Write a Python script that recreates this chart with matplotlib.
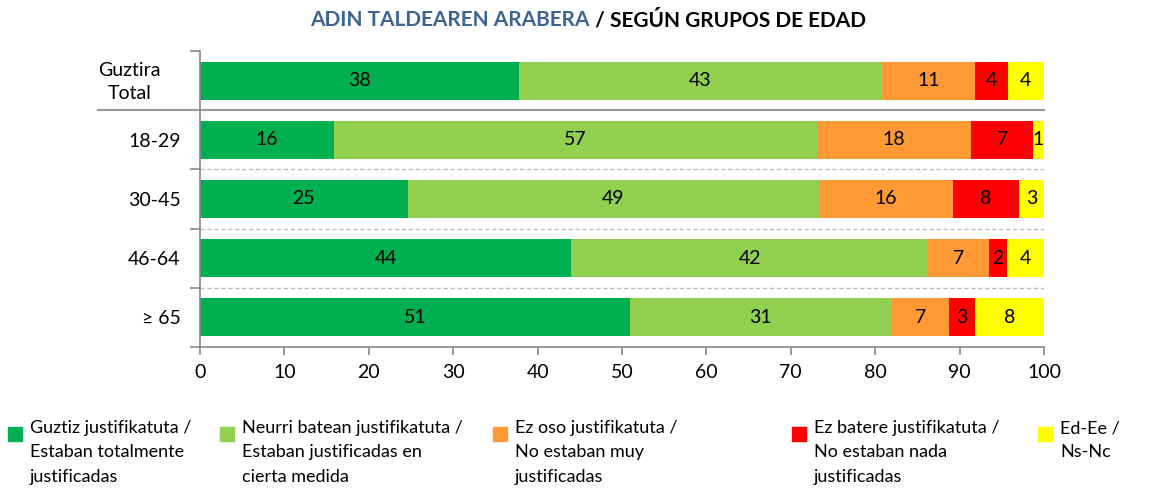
import matplotlib
matplotlib.use('Agg')
import matplotlib.pyplot as plt
from matplotlib.patches import Rectangle
from matplotlib.transforms import ScaledTranslation
import numpy as np

plt.rcParams['font.family'] = ['Lato', 'DejaVu Sans']

# Datos
grupos = ['Guztira\nTotal', '18-29', '30-45', '46-64', '≥ 65']
guztiz = [37.8, 15.9, 24.6, 44.0, 50.9]
neurri = [43.0, 57.2, 48.7, 42.3, 31.0]
ez_oso = [11.0, 18.3, 15.9, 7.2, 6.9]
ez_batere = [3.9, 7.3, 7.8, 2.1, 3.0]
ed_ee = [4.3, 1.3, 3.0, 4.4, 8.2]

series = [guztiz, neurri, ez_oso, ez_batere, ed_ee]
colores = ['#00B050', '#92D050', '#FF9933', '#FF0000', '#FFFF00']
etiquetas = ['Guztiz justifikatuta /\nEstaban totalmente\njustificadas',
             'Neurri batean justifikatuta /\nEstaban justificadas en\ncierta medida',
             'Ez oso justifikatuta /\nNo estaban muy\njustificadas',
             'Ez batere justifikatuta /\nNo estaban nada\njustificadas',
             'Ed-Ee /\nNs-Nc']

W, H = 1176, 497
fig = plt.figure(figsize=(W / 100, H / 100), dpi=100)
ax = fig.add_axes([200 / W, 1 - 347 / H, 844 / W, 296 / H])

y = np.arange(len(grupos))
izq = np.zeros(len(grupos))
for vals, col in zip(series, colores):
    vals = np.array(vals)
    bars = ax.barh(y, vals, left=izq, height=0.64, color=col, edgecolor='none')
    for b, v in zip(bars, vals):
        ax.text(b.get_x() + b.get_width() / 2, b.get_y() + b.get_height() / 2,
                f'{v:.0f}', ha='center', va='center', fontsize=14, color='black')
    izq += vals

ax.set_xlim(0, 100)
ax.set_ylim(len(grupos) - 0.5, -0.5)
ax.set_xticks(np.arange(0, 101, 10))
ax.set_yticks(y)
ax.set_yticklabels(grupos)
ax.set_yticks(np.arange(-0.5, len(grupos), 1), minor=True)
ax.tick_params(axis='y', which='major', length=0, pad=14, labelsize=14)
ax.tick_params(axis='y', which='minor', length=7, color='#888888', width=1.2)
ax.tick_params(axis='x', length=6, color='#888888', width=1.2, labelsize=14, pad=6)

for s in ['top', 'right']:
    ax.spines[s].set_visible(False)
for s in ['left', 'bottom']:
    ax.spines[s].set_color('#888888')
    ax.spines[s].set_linewidth(1.2)

# Ajuste de la etiqueta Guztira / Total
lbl = ax.get_yticklabels()[0]
lbl.set_multialignment('center')
lbl.set_linespacing(1.45)
lbl.set_transform(lbl.get_transform() + ScaledTranslation(-0.20, 0.03, fig.dpi_scale_trans))

# Separadores
ax.plot([-0.121, 1.0], [0.5, 0.5], transform=ax.get_yaxis_transform(),
        color='#999999', lw=1.5, clip_on=False)
for yy in [1.5, 2.5, 3.5]:
    ax.axhline(yy, color='#BBBBBB', lw=1, ls=(0, (3, 2)))

# Titulo
fig.text(590 / W, 1 - 20 / H, 'ADIN TALDEAREN ARABERA', ha='right', va='center',
         fontsize=15, fontweight='bold', color='#3A6496')
fig.text(590 / W, 1 - 20 / H, ' / SEGÚN GRUPOS DE EDAD', ha='left', va='center',
         fontsize=15, fontweight='bold', color='black')

# Leyenda
xs_marca = [8, 220, 493, 792, 1038]
for xm, col, et in zip(xs_marca, colores, etiquetas):
    fig.add_artist(Rectangle((xm / W, 1 - 441 / H), 14 / W, 14 / H,
                             transform=fig.transFigure, color=col))
    fig.text((xm + 22) / W, 1 - 420 / H, et, ha='left', va='top',
             fontsize=13, linespacing=1.65)

fig.savefig('out.png', dpi=100)
